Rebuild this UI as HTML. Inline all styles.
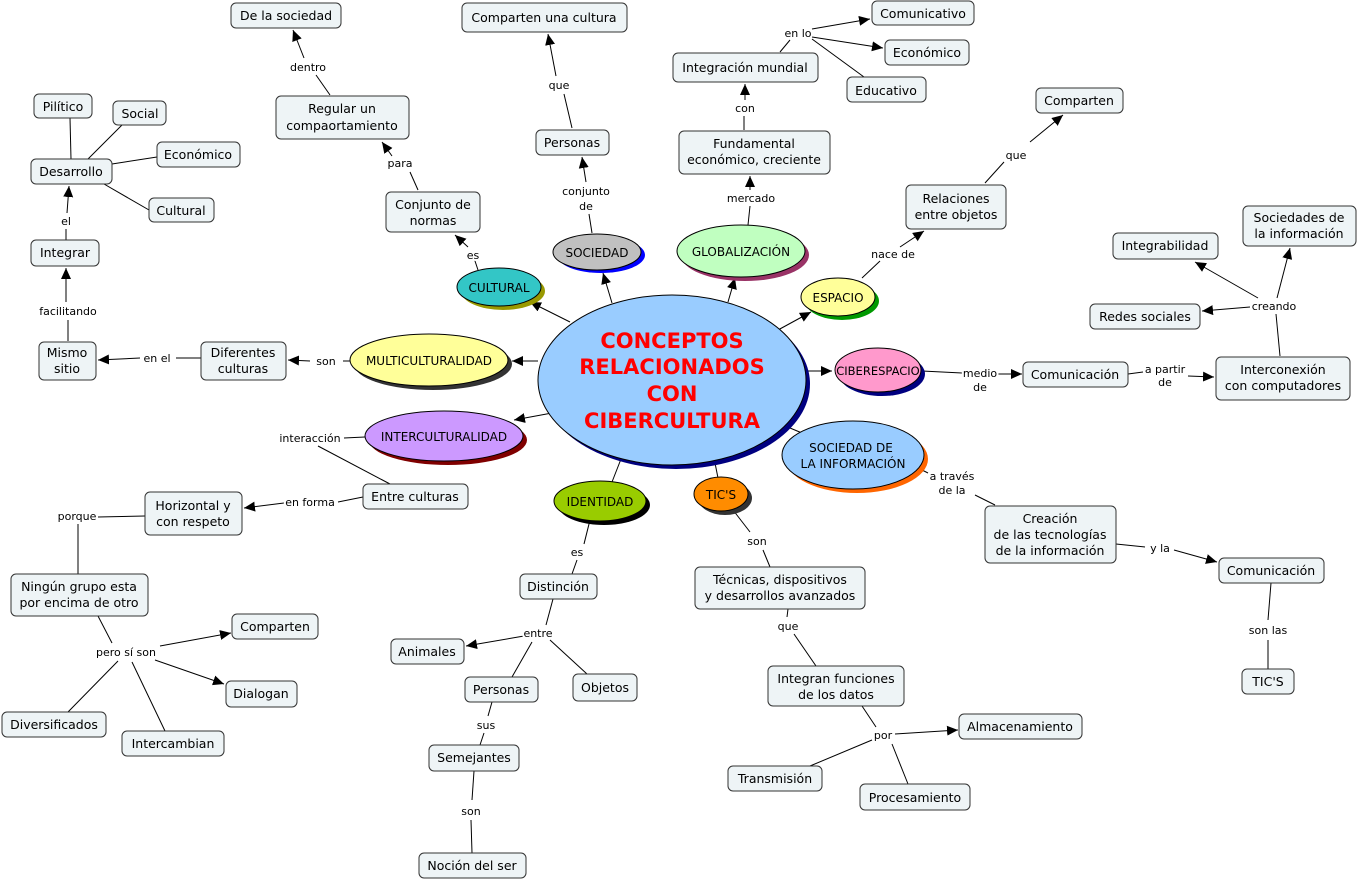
<!DOCTYPE html>
<html><head><meta charset="utf-8"><style>
html,body{margin:0;padding:0;background:#fff;}
svg{display:block;}
.b{fill:#eef4f6;stroke:#333;stroke-width:1;}
text{font-family:"DejaVu Sans","Liberation Sans",sans-serif;font-size:12.5px;fill:#000;text-anchor:middle;}
.l{font-size:11px;stroke:#fff;stroke-width:4px;paint-order:stroke;stroke-linejoin:round;}
.e{font-size:12px;}
line,polyline{stroke:#000;stroke-width:1;fill:none;}
.a{marker-end:url(#ar);}
</style></head><body>
<svg width="1358" height="881" viewBox="0 0 1358 881" xmlns="http://www.w3.org/2000/svg">
<defs><marker id="ar" markerUnits="userSpaceOnUse" markerWidth="12" markerHeight="12" refX="11" refY="5" orient="auto"><path d="M0,0 L11,5 L0,10 z" fill="#000"/></marker></defs>

<g>
<line class="a" x1="612" y1="303" x2="603" y2="273"/>
<line class="a" x1="728" y1="302" x2="735" y2="278"/>
<line class="a" x1="570" y1="322" x2="530" y2="302"/>
<line class="a" x1="778" y1="330" x2="811" y2="312"/>
<line class="a" x1="806" y1="371" x2="832" y2="371"/>
<line class="a" x1="538" y1="361" x2="512" y2="361"/>
<line class="a" x1="552" y1="413" x2="514" y2="420"/>
<line x1="790" y1="428" x2="802" y2="433"/>
<line x1="621" y1="459" x2="612" y2="482"/>
<line x1="715" y1="463" x2="718" y2="478"/>

<polyline points="478,270 473,255"/><line class="a" x1="468" y1="247" x2="455" y2="235"/>
<polyline points="418,190 410,172"/><line class="a" x1="392" y1="156" x2="382" y2="142"/>
<polyline points="330,95 316,75"/><line class="a" x1="304" y1="58" x2="293" y2="30"/>
<polyline points="592,233 589,214"/><line class="a" x1="586" y1="182" x2="582" y2="157"/>
<polyline points="572,128 564,94"/><line class="a" x1="556" y1="76" x2="548" y2="34"/>
<polyline points="748,225 750,206"/><line class="a" x1="750" y1="190" x2="750" y2="176"/>
<polyline points="744,130 744,116"/><line class="a" x1="745" y1="100" x2="745" y2="84"/>
<polyline points="780,52 790,40"/>
<line class="a" x1="812" y1="29" x2="870" y2="19"/>
<line class="a" x1="812" y1="37" x2="883" y2="48"/>
<line x1="812" y1="39" x2="864" y2="77"/>
<polyline points="862,278 880,261"/><line class="a" x1="900" y1="247" x2="924" y2="231"/>
<polyline points="985,183 1004,162"/><line class="a" x1="1030" y1="142" x2="1063" y2="115"/>
<polyline points="922,371 962,373"/><line class="a" x1="996" y1="374" x2="1022" y2="374"/>
<polyline points="1128,374 1143,372"/><line class="a" x1="1188" y1="376" x2="1214" y2="377"/>
<polyline points="1280,356 1276,314"/>
<line class="a" x1="1277" y1="298" x2="1290" y2="248"/>
<line class="a" x1="1258" y1="298" x2="1195" y2="262"/>
<line class="a" x1="1250" y1="307" x2="1202" y2="311"/>
<polyline points="350,361 343,361"/><line class="a" x1="310" y1="361" x2="288" y2="360"/>
<polyline points="201,358 176,358"/><line class="a" x1="140" y1="358" x2="98" y2="360"/>
<polyline points="68,341 68,320"/><line class="a" x1="66" y1="302" x2="66" y2="268"/>
<polyline points="66,240 66,229"/><line class="a" x1="67" y1="213" x2="69" y2="186"/>
<line x1="70" y1="118" x2="71" y2="159"/>
<line x1="122" y1="125" x2="88" y2="159"/>
<line x1="157" y1="157" x2="112" y2="164"/>
<line x1="104" y1="184" x2="149" y2="210"/>
<polyline points="365,437 344,438"/><line x1="318" y1="446" x2="390" y2="484"/>
<polyline points="363,497 338,502"/><line class="a" x1="284" y1="503" x2="244" y2="508"/>
<polyline points="145,516 98,517"/><line x1="78" y1="524" x2="78" y2="574"/>
<line x1="98" y1="616" x2="112" y2="643"/>
<line class="a" x1="160" y1="646" x2="231" y2="633"/>
<line class="a" x1="155" y1="660" x2="224" y2="684"/>
<line x1="118" y1="661" x2="68" y2="712"/>
<line x1="132" y1="662" x2="165" y2="731"/>
<polyline points="590,520 584,544"/><line x1="577" y1="560" x2="572" y2="574"/>
<polyline points="553,599 546,625"/><line class="a" x1="524" y1="636" x2="466" y2="646"/>
<line x1="532" y1="642" x2="512" y2="677"/>
<line x1="550" y1="640" x2="587" y2="674"/>
<polyline points="492,702 488,716"/><line x1="484" y1="733" x2="480" y2="745"/>
<polyline points="474,771 472,800"/><line x1="471" y1="820" x2="472" y2="853"/>
<polyline points="733,510 750,532"/><line x1="763" y1="550" x2="770" y2="567"/>
<polyline points="788,609 787,617"/><line x1="794" y1="634" x2="816" y2="666"/>
<polyline points="862,706 876,727"/>
<line class="a" x1="895" y1="734" x2="958" y2="730"/>
<line x1="872" y1="740" x2="810" y2="766"/>
<line x1="892" y1="744" x2="908" y2="784"/>
<polyline points="918,468 928,473"/><line x1="975" y1="495" x2="995" y2="505"/>
<polyline points="1116,544 1145,547"/><line class="a" x1="1174" y1="550" x2="1217" y2="562"/>
<polyline points="1271,583 1268,620"/><line x1="1268" y1="640" x2="1268" y2="669"/>
</g>

<g stroke="#000" stroke-width="1">
<ellipse cx="676" cy="384" rx="134" ry="85" fill="#000080" stroke="none"/>
<ellipse cx="672" cy="380" rx="134" ry="85" fill="#99ccff"/>
<ellipse cx="601" cy="255" rx="44" ry="18" fill="#0000ff" stroke="none"/>
<ellipse cx="597" cy="252" rx="44" ry="18" fill="#c0c0c0"/>
<ellipse cx="745" cy="255" rx="64" ry="26" fill="#993366" stroke="none"/>
<ellipse cx="741" cy="251" rx="64" ry="26" fill="#c0ffc0"/>
<ellipse cx="503" cy="291" rx="42" ry="19" fill="#999900" stroke="none"/>
<ellipse cx="499" cy="287" rx="42" ry="19" fill="#33c6c6"/>
<ellipse cx="842" cy="301" rx="37" ry="19" fill="#009900" stroke="none"/>
<ellipse cx="838" cy="297" rx="37" ry="19" fill="#ffff99"/>
<ellipse cx="433" cy="364" rx="79" ry="26" fill="#333" stroke="none"/>
<ellipse cx="429" cy="360" rx="79" ry="26" fill="#ffff99"/>
<ellipse cx="882" cy="374" rx="43" ry="22" fill="#000080" stroke="none"/>
<ellipse cx="878" cy="370" rx="43" ry="22" fill="#ff99cc"/>
<ellipse cx="448" cy="440" rx="79" ry="25" fill="#800000" stroke="none"/>
<ellipse cx="444" cy="436" rx="79" ry="25" fill="#cc99ff"/>
<ellipse cx="857" cy="459" rx="71" ry="34" fill="#ff6600" stroke="none"/>
<ellipse cx="853" cy="455" rx="71" ry="34" fill="#99ccff"/>
<ellipse cx="604" cy="505" rx="46" ry="20" fill="#000" stroke="none"/>
<ellipse cx="600" cy="501" rx="46" ry="20" fill="#99cc00"/>
<ellipse cx="725" cy="498" rx="27" ry="17" fill="#333" stroke="none"/>
<ellipse cx="721" cy="494" rx="27" ry="17" fill="#ff8c00"/>
</g>
<text x="672" y="348" style="font-size:21px;font-weight:bold;fill:#f00">CONCEPTOS</text>
<text x="672" y="374" style="font-size:21px;font-weight:bold;fill:#f00">RELACIONADOS</text>
<text x="672" y="401" style="font-size:21px;font-weight:bold;fill:#f00">CON</text>
<text x="672" y="428" style="font-size:21px;font-weight:bold;fill:#f00">CIBERCULTURA</text>
<text class="e" x="597" y="257">SOCIEDAD</text>
<text class="e" x="741" y="256">GLOBALIZACIÓN</text>
<text class="e" x="499" y="292">CULTURAL</text>
<text class="e" x="838" y="302">ESPACIO</text>
<text class="e" x="429" y="365">MULTICULTURALIDAD</text>
<text class="e" x="878" y="375" style="font-size:11.5px">CIBERESPACIO</text>
<text class="e" x="444" y="441">INTERCULTURALIDAD</text>
<text class="e" x="851" y="452">SOCIEDAD DE</text>
<text class="e" x="853" y="468">LA INFORMACIÓN</text>
<text class="e" x="600" y="506">IDENTIDAD</text>
<text class="e" x="721" y="499">TIC'S</text>

<g>
<rect class="b" x="231" y="3" width="110" height="25" rx="5"/><text x="286" y="20">De la sociedad</text>
<rect class="b" x="276" y="96" width="133" height="43" rx="5"/><text x="342" y="113">Regular un</text><text x="342" y="130">compaortamiento</text>
<rect class="b" x="386" y="192" width="94" height="40" rx="5"/><text x="433" y="209">Conjunto de</text><text x="433" y="225">normas</text>
<rect class="b" x="462" y="3" width="165" height="29" rx="5"/><text x="544" y="22">Comparten una cultura</text>
<rect class="b" x="536" y="130" width="73" height="25" rx="5"/><text x="572" y="147">Personas</text>
<rect class="b" x="872" y="1" width="102" height="24" rx="5"/><text x="923" y="18">Comunicativo</text>
<rect class="b" x="673" y="53" width="145" height="29" rx="5"/><text x="745" y="72">Integración mundial</text>
<rect class="b" x="885" y="40" width="84" height="25" rx="5"/><text x="927" y="57">Económico</text>
<rect class="b" x="847" y="77" width="79" height="25" rx="5"/><text x="886" y="95">Educativo</text>
<rect class="b" x="679" y="131" width="151" height="43" rx="5"/><text x="754" y="148">Fundamental</text><text x="754" y="164">económico, creciente</text>
<rect class="b" x="1036" y="88" width="87" height="25" rx="5"/><text x="1079" y="105">Comparten</text>
<rect class="b" x="906" y="185" width="100" height="44" rx="5"/><text x="956" y="203">Relaciones</text><text x="956" y="219">entre objetos</text>
<rect class="b" x="1243" y="206" width="113" height="40" rx="5"/><text x="1299" y="222">Sociedades de</text><text x="1299" y="238">la información</text>
<rect class="b" x="1113" y="233" width="105" height="26" rx="5"/><text x="1165" y="250">Integrabilidad</text>
<rect class="b" x="1090" y="304" width="110" height="25" rx="5"/><text x="1145" y="321">Redes sociales</text>
<rect class="b" x="1023" y="362" width="105" height="25" rx="5"/><text x="1075" y="379">Comunicación</text>
<rect class="b" x="1216" y="357" width="134" height="43" rx="5"/><text x="1283" y="374">Interconexión</text><text x="1283" y="390">con computadores</text>
<rect class="b" x="34" y="94" width="58" height="24" rx="5"/><text x="63" y="111">Pilítico</text>
<rect class="b" x="113" y="101" width="53" height="24" rx="5"/><text x="140" y="118">Social</text>
<rect class="b" x="157" y="142" width="83" height="25" rx="5"/><text x="198" y="159">Económico</text>
<rect class="b" x="31" y="159" width="81" height="25" rx="5"/><text x="71" y="176">Desarrollo</text>
<rect class="b" x="149" y="198" width="65" height="24" rx="5"/><text x="181" y="215">Cultural</text>
<rect class="b" x="31" y="240" width="68" height="26" rx="5"/><text x="65" y="257">Integrar</text>
<rect class="b" x="39" y="342" width="57" height="38" rx="5"/><text x="67" y="357">Mismo</text><text x="67" y="373">sitio</text>
<rect class="b" x="201" y="342" width="85" height="38" rx="5"/><text x="243" y="357">Diferentes</text><text x="243" y="373">culturas</text>
<rect class="b" x="363" y="484" width="105" height="25" rx="5"/><text x="415" y="501">Entre culturas</text>
<rect class="b" x="145" y="492" width="97" height="43" rx="5"/><text x="193" y="510">Horizontal y</text><text x="193" y="526">con respeto</text>
<rect class="b" x="11" y="574" width="137" height="42" rx="5"/><text x="79" y="591">Ningún grupo esta</text><text x="79" y="607">por encima de otro</text>
<rect class="b" x="232" y="614" width="86" height="25" rx="5"/><text x="275" y="631">Comparten</text>
<rect class="b" x="226" y="681" width="71" height="26" rx="5"/><text x="261" y="698">Dialogan</text>
<rect class="b" x="2" y="712" width="104" height="25" rx="5"/><text x="54" y="729">Diversificados</text>
<rect class="b" x="122" y="731" width="102" height="25" rx="5"/><text x="173" y="748">Intercambian</text>
<rect class="b" x="520" y="574" width="77" height="25" rx="5"/><text x="558" y="591">Distinción</text>
<rect class="b" x="391" y="639" width="73" height="25" rx="5"/><text x="427" y="656">Animales</text>
<rect class="b" x="465" y="677" width="73" height="25" rx="5"/><text x="501" y="694">Personas</text>
<rect class="b" x="573" y="674" width="64" height="27" rx="5"/><text x="605" y="692">Objetos</text>
<rect class="b" x="429" y="745" width="90" height="26" rx="5"/><text x="474" y="762">Semejantes</text>
<rect class="b" x="419" y="853" width="107" height="25" rx="5"/><text x="472" y="870">Noción del ser</text>
<rect class="b" x="695" y="567" width="170" height="42" rx="5"/><text x="780" y="584">Técnicas, dispositivos</text><text x="780" y="600">y desarrollos avanzados</text>
<rect class="b" x="768" y="666" width="136" height="40" rx="5"/><text x="836" y="683">Integran funciones</text><text x="836" y="699">de los datos</text>
<rect class="b" x="959" y="714" width="123" height="25" rx="5"/><text x="1020" y="731">Almacenamiento</text>
<rect class="b" x="728" y="766" width="94" height="25" rx="5"/><text x="775" y="783">Transmisión</text>
<rect class="b" x="860" y="784" width="110" height="26" rx="5"/><text x="915" y="802">Procesamiento</text>
<rect class="b" x="985" y="506" width="131" height="57" rx="5"/><text x="1050" y="523">Creación</text><text x="1050" y="539">de las tecnologías</text><text x="1050" y="555">de la información</text>
<rect class="b" x="1219" y="558" width="105" height="25" rx="5"/><text x="1271" y="575">Comunicación</text>
<rect class="b" x="1242" y="669" width="52" height="25" rx="5"/><text x="1268" y="686">TIC'S</text>
</g>

<g>
<text class="l" x="308" y="71">dentro</text>
<text class="l" x="559" y="89">que</text>
<text class="l" x="798" y="37">en lo</text>
<text class="l" x="745" y="112">con</text>
<text class="l" x="400" y="167">para</text>
<text class="l" x="586" y="195">conjunto</text><text class="l" x="586" y="210">de</text>
<text class="l" x="751" y="202">mercado</text>
<text class="l" x="1016" y="159">que</text>
<text class="l" x="893" y="258">nace de</text>
<text class="l" x="473" y="259">es</text>
<text class="l" x="1274" y="310">creando</text>
<text class="l" x="66" y="225">el</text>
<text class="l" x="68" y="315">facilitando</text>
<text class="l" x="157" y="362">en el</text>
<text class="l" x="326" y="365">son</text>
<text class="l" x="980" y="377">medio</text><text class="l" x="980" y="391">de</text>
<text class="l" x="1165" y="373">a partir</text><text class="l" x="1165" y="386">de</text>
<text class="l" x="310" y="442">interacción</text>
<text class="l" x="310" y="506">en forma</text>
<text class="l" x="77" y="520">porque</text>
<text class="l" x="952" y="480">a través</text><text class="l" x="952" y="494">de la</text>
<text class="l" x="1160" y="552">y la</text>
<text class="l" x="577" y="556">es</text>
<text class="l" x="757" y="545">son</text>
<text class="l" x="538" y="637">entre</text>
<text class="l" x="788" y="630">que</text>
<text class="l" x="486" y="729">sus</text>
<text class="l" x="126" y="656">pero sí son</text>
<text class="l" x="883" y="739">por</text>
<text class="l" x="1268" y="634">son las</text>
<text class="l" x="471" y="815">son</text>
</g>
</svg>
</body></html>
